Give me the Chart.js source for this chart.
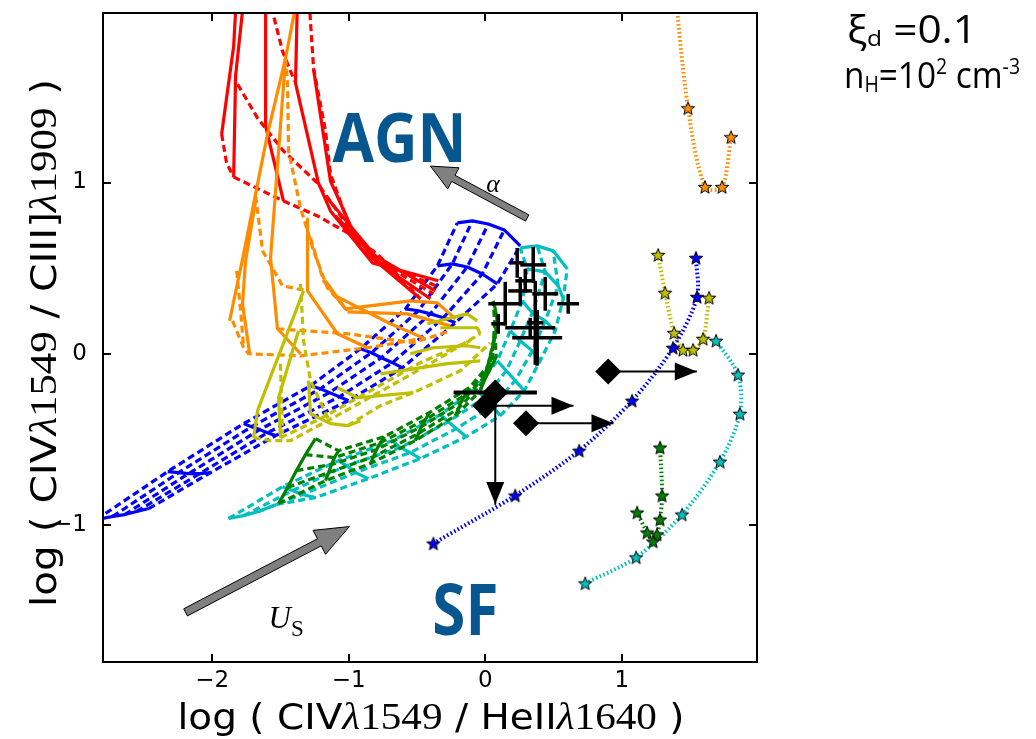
<!DOCTYPE html>
<html>
<head>
<meta charset="utf-8">
<title>CIV/HeII vs CIV/CIII] diagnostic</title>
<script src="https://cdn.jsdelivr.net/npm/chart.js@4.4.1/dist/chart.umd.min.js"></script>
<style>
  html, body { margin: 0; padding: 0; background: #fff; }
  #wrap { width: 1036px; height: 739px; }
</style>
</head>
<body>
<div id="wrap"><canvas id="diag" width="1036" height="739"></canvas></div>
<script>
(function () {
    'use strict';

    // ---- axes ----
    var X_MIN = -2.8, X_MAX = 1.99, Y_MIN = -1.8, Y_MAX = 1.99;
    var xTicks = [-2, -1, 0, 1];
    var yTicks = [-1, 0, 1];

    var RED = '#ff0000', ORANGE = '#ff8c00', YELLOW = '#bfbf00',
        BLUE = '#0000ff', CYAN = '#00bfbf', GREEN = '#008000';

    // ---- AGN model tracks (solid = one parameter fixed, dashed = the other) ----
    var redSolid = [
        [[-1.821, 2.117], [-1.843, 1.796], [-1.931, 1.283]],
        [[-1.763, 2.117], [-1.829, 1.621], [-1.843, 1.032]],
        [[-1.609, 2.117], [-1.609, 1.329], [-1.478, 0.892]],
        [[-1.375, 2.117], [-1.390, 1.580], [-1.222, 0.997], [-1.134, 0.834], [-0.827, 0.531], [-0.344, 0.426]],
        [[-1.258, 1.662], [-1.134, 1.009], [-0.914, 0.618], [-0.475, 0.321]],
        [[-1.170, 0.921], [-0.805, 0.571], [-0.366, 0.367]],
        [[-1.097, 0.805], [-0.753, 0.513], [-0.402, 0.321]]
    ];
    var redDashed = [
        [[-1.931, 1.283], [-1.895, 1.114], [-1.843, 1.032]],
        [[-1.843, 1.032], [-1.478, 0.892], [-1.229, 0.805], [-1.009, 0.706], [-0.790, 0.583], [-0.475, 0.321]],
        [[-1.814, 1.574], [-1.668, 1.376], [-1.478, 1.184], [-1.229, 0.997], [-1.024, 0.764], [-0.805, 0.554], [-0.380, 0.350]],
        [[-1.587, 2.088], [-1.485, 1.767], [-1.397, 1.592]],
        [[-1.295, 2.117], [-1.258, 1.668], [-1.170, 1.300], [-1.134, 1.050], [-0.988, 0.729], [-0.768, 0.531], [-0.344, 0.391]]
    ];

    var orangeSolid = [
        [[-1.368, 2.117], [-1.463, 1.726], [-1.595, 1.283], [-1.770, 0.583], [-1.873, 0.192]],
        [[-1.463, 1.726], [-1.514, 1.184], [-1.573, 0.560], [-1.522, 0.146], [-1.353, 0.000]],
        [[-1.682, 0.892], [-1.756, 0.542], [-1.778, 0.292], [-1.726, 0.000]],
        [[-1.302, 0.787], [-1.302, 0.367], [-1.083, 0.117], [-0.863, 0.035]],
        [[-1.170, 0.426], [-1.024, 0.262], [-0.549, 0.309], [-0.351, 0.297], [-0.219, 0.204]],
        [[-1.009, 0.245], [-0.571, 0.233], [-0.256, 0.163]],
        [[-1.112, 0.344], [-0.695, 0.175], [-0.439, 0.087]]
    ];
    var orangeDashed = [
        [[-1.851, 0.192], [-1.770, 0.035], [-1.734, 0.000], [-1.353, -0.012], [-0.863, 0.035], [-0.475, 0.087]],
        [[-1.463, 1.726], [-1.448, 1.574], [-1.441, 1.184], [-1.353, 0.851], [-1.258, 0.601], [-1.156, 0.385], [-1.009, 0.251]],
        [[-1.682, 0.921], [-1.631, 0.601], [-1.485, 0.397], [-1.302, 0.367]],
        [[-1.821, 0.484], [-1.792, 0.251], [-1.770, 0.035]],
        [[-1.522, 0.146], [-1.009, 0.117], [-0.527, 0.064], [-0.256, 0.134]],
        [[-1.280, 0.676], [-1.185, 0.426], [-1.024, 0.262]]
    ];

    var yellowSolid = [
        [[-1.331, 0.367], [-1.500, 0.017], [-1.668, -0.332], [-1.697, -0.490]],
        [[-1.368, 0.134], [-1.514, -0.257], [-1.500, -0.490]],
        [[-1.295, -0.157], [-1.280, -0.350], [-1.134, -0.408], [-1.009, -0.420], [-0.914, -0.391]],
        [[-1.083, -0.198], [-0.936, -0.257], [-0.527, -0.227]],
        [[-0.768, -0.117], [-0.278, -0.058], [-0.037, -0.041]],
        [[-0.549, 0.000], [-0.380, 0.035], [-0.132, 0.047], [-0.037, 0.035]],
        [[-0.424, 0.175], [-0.132, 0.233], [-0.059, 0.192]],
        [[-0.329, 0.152], [-0.059, 0.152], [-0.037, 0.117]]
    ];
    var yellowDashed = [
        [[-1.697, -0.490], [-1.573, -0.507], [-1.426, -0.507], [-1.112, -0.373], [-0.717, -0.198], [-0.329, -0.023], [-0.037, 0.117]],
        [[-1.500, -0.490], [-1.207, -0.379], [-0.841, -0.216], [-0.475, -0.052], [-0.110, 0.076]],
        [[-1.353, 0.408], [-1.331, 0.076], [-1.280, -0.157], [-1.134, -0.408]],
        [[-1.500, -0.058], [-1.485, -0.467]],
        [[-1.009, -0.420], [-0.768, -0.303], [-0.527, -0.227], [-0.183, -0.099], [0.037, 0.064]]
    ];

    // grids: each row is drawn solid, each column dashed
    var blueGrid = [
        [[-2.848, -0.968], [-2.729, -0.950], [-2.641, -0.939], [-2.553, -0.921], [-2.465, -0.904]],
        [[-2.326, -0.688], [-2.246, -0.694], [-2.173, -0.700], [-2.092, -0.700], [-2.012, -0.694]],
        [[-1.770, -0.408], [-1.712, -0.426], [-1.653, -0.443], [-1.595, -0.461], [-1.536, -0.478]],
        [[-1.280, -0.187], [-1.207, -0.204], [-1.141, -0.227], [-1.068, -0.251], [-1.002, -0.274]],
        [[-0.914, 0.029], [-0.834, 0.006], [-0.761, -0.023], [-0.680, -0.052], [-0.607, -0.082]],
        [[-0.585, 0.262], [-0.490, 0.251], [-0.402, 0.233], [-0.307, 0.210], [-0.219, 0.181]],
        [[-0.351, 0.513], [-0.241, 0.525], [-0.132, 0.507], [-0.022, 0.466], [0.088, 0.408]],
        [[-0.205, 0.764], [-0.095, 0.776], [0.022, 0.758], [0.139, 0.723], [0.256, 0.630]]
    ];
    var cyanGrid = [
        [[-1.880, -0.962], [-1.770, -0.945], [-1.661, -0.921], [-1.529, -0.880]],
        [[-1.485, -0.776], [-1.412, -0.799], [-1.339, -0.822], [-1.244, -0.840]],
        [[-1.075, -0.624], [-1.017, -0.653], [-0.951, -0.694], [-0.856, -0.729]],
        [[-0.680, -0.507], [-0.622, -0.548], [-0.549, -0.577], [-0.475, -0.612]],
        [[-0.329, -0.356], [-0.271, -0.397], [-0.212, -0.437], [-0.139, -0.484]],
        [[-0.073, -0.204], [-0.007, -0.257], [0.051, -0.303], [0.110, -0.362]],
        [[0.088, -0.041], [0.154, -0.099], [0.219, -0.157], [0.285, -0.216]],
        [[0.183, 0.134], [0.256, 0.076], [0.344, 0.017], [0.402, -0.041]],
        [[0.271, 0.309], [0.344, 0.239], [0.439, 0.192], [0.512, 0.134]],
        [[0.307, 0.496], [0.439, 0.478], [0.534, 0.397], [0.571, 0.321]],
        [[0.256, 0.618], [0.380, 0.630], [0.497, 0.601], [0.600, 0.496]]
    ];
    var greenGrid = [
        [[-1.514, -0.875], [-1.448, -0.781], [-1.383, -0.682], [-1.317, -0.589], [-1.244, -0.496]],
        [[-1.170, -0.741], [-1.148, -0.694], [-1.126, -0.647], [-1.104, -0.606], [-1.075, -0.566]],
        [[-0.841, -0.641], [-0.819, -0.601], [-0.797, -0.560], [-0.768, -0.519], [-0.739, -0.484]],
        [[-0.512, -0.507], [-0.490, -0.466], [-0.468, -0.426], [-0.439, -0.385], [-0.410, -0.344]],
        [[-0.219, -0.362], [-0.198, -0.321], [-0.176, -0.280], [-0.146, -0.239], [-0.117, -0.198]],
        [[-0.037, -0.216], [-0.007, -0.157], [0.022, -0.111], [0.051, -0.064], [0.080, -0.017]],
        [[0.059, 0.047], [0.073, 0.117], [0.088, 0.192], [0.073, 0.262], [0.059, 0.309]]
    ];

    // ---- SF model tracks (stars) ----
    var sfOrange = [[1.368, 2.297], [1.485, 1.434], [1.609, 0.974], [1.734, 0.974], [1.800, 1.265]];
    var sfYellow = [[1.266, 0.577], [1.317, 0.356], [1.383, 0.122], [1.448, 0.023], [1.522, 0.023], [1.595, 0.087], [1.639, 0.327]];
    var sfBlue = [[-0.380, -1.108], [0.219, -0.828], [0.688, -0.566], [1.075, -0.274], [1.375, 0.035], [1.551, 0.332], [1.543, 0.560]];
    var sfCyan = [[0.732, -1.341], [1.105, -1.189], [1.441, -0.939], [1.719, -0.630], [1.865, -0.350], [1.851, -0.122], [1.690, 0.076]];
    var sfGreen = [[1.280, -0.548], [1.295, -0.828], [1.280, -0.968], [1.258, -1.055], [1.229, -1.096], [1.185, -1.044], [1.112, -0.927]];

    // ---- observed objects: value and error half-widths ----
    var obsX  = [0.234, 0.351, 0.146, 0.256, 0.607, 0.095, 0.329, 0.380, 0.439, 0.366, 0.293];
    var obsY  = [0.531, 0.519, 0.292, 0.367, 0.292, 0.175, 0.152, 0.093, 0.350, 0.181, 0.426];
    var obsEx = [0.051, 0.095, 0.124, 0.088, 0.080, 0.051, 0.183, 0.183, 0.095, 0.059, 0.073];
    var obsEy = [0.087, 0.105, 0.128, 0.082, 0.058, 0.058, 0.058, 0.163, 0.099, 0.245, 0.070];

    // limits: diamond position and where its arrow ends
    var limX   = [0.900, 0.000, 0.073, 0.298];
    var limY   = [-0.103, -0.303, -0.226, -0.406];
    var limToX = [1.549, 0.646, 0.073, 0.939];
    var limToY = [-0.103, -0.303, -0.877, -0.406];
    var limErrX = [-0.232, 0.378];   // x error of the third diamond

    // ---- helpers ----
    function P(list) { return list.map(function (p) { return { x: p[0], y: p[1] }; }); }
    function columnsOf(grid) {
        var out = [];
        for (var k = 0; k < grid[0].length; k++) {
            out.push(grid.map(function (row) { return row[k]; }));
        }
        return out;
    }

    var DASH = [7, 4], DOT = [1.6, 2.4];
    var sets = [];

    function track(points, color, dash, width) {
        sets.push({
            data: P(points), showLine: true, borderColor: color, backgroundColor: color,
            borderWidth: width || 3.2, borderDash: dash || [], borderJoinStyle: 'round',
            pointRadius: 0
        });
    }

    function starImage(fill) {
        var c = document.createElement('canvas');
        c.width = 18; c.height = 18;
        var g = c.getContext('2d');
        g.beginPath();
        for (var i = 0; i < 10; i++) {
            var a = -Math.PI / 2 + i * Math.PI / 5;
            var r = i % 2 ? 3.0 : 7.0;
            g.lineTo(9 + r * Math.cos(a), 9.6 + r * Math.sin(a));
        }
        g.closePath();
        g.fillStyle = fill;
        g.fill();
        g.lineWidth = 1;
        g.strokeStyle = '#000';
        g.stroke();
        return c;
    }

    function sfTrack(points, color) {
        sets.push({
            data: P(points), showLine: true, borderColor: color, borderWidth: 4,
            borderDash: DOT, tension: 0.3, pointRadius: 0
        });
    }
    function sfStars(points, color) {
        sets.push({
            data: P(points), showLine: false, pointStyle: starImage(color),
            pointRadius: 7, pointBackgroundColor: color
        });
    }

    // ---- layers, bottom first ----
    columnsOf(blueGrid).forEach(function (l) { track(l, BLUE, DASH); });
    blueGrid.forEach(function (l) { track(l, BLUE); });
    columnsOf(cyanGrid).forEach(function (l) { track(l, CYAN, DASH); });
    cyanGrid.forEach(function (l) { track(l, CYAN); });
    columnsOf(greenGrid).forEach(function (l) { track(l, GREEN, DASH); });
    greenGrid.forEach(function (l) { track(l, GREEN); });
    redDashed.forEach(function (l) { track(l, RED, DASH); });
    redSolid.forEach(function (l) { track(l, RED); });
    orangeDashed.forEach(function (l) { track(l, ORANGE, DASH); });
    orangeSolid.forEach(function (l) { track(l, ORANGE); });
    yellowDashed.forEach(function (l) { track(l, YELLOW, DASH); });
    yellowSolid.forEach(function (l) { track(l, YELLOW); });

    [[sfOrange, ORANGE], [sfYellow, YELLOW], [sfBlue, BLUE], [sfCyan, CYAN], [sfGreen, GREEN]]
        .forEach(function (s) { sfTrack(s[0], s[1]); });
    [[sfOrange, ORANGE], [sfYellow, YELLOW], [sfBlue, BLUE], [sfCyan, CYAN], [sfGreen, GREEN]]
        .forEach(function (s) { sfStars(s[0], s[1]); });

    // error-bar crosses
    for (var i = 0; i < obsX.length; i++) {
        track([[obsX[i] - obsEx[i], obsY[i]], [obsX[i] + obsEx[i], obsY[i]]], '#000', null, 3.5);
        track([[obsX[i], obsY[i] - obsEy[i]], [obsX[i], obsY[i] + obsEy[i]]], '#000', null, 3.5);
    }
    // limit arrows (shafts) and the x error bar
    for (var j = 0; j < limX.length; j++) {
        track([[limX[j], limY[j]], [limToX[j], limToY[j]]], '#000', null, 2);
    }
    track([[limErrX[0], limY[2]], [limErrX[1], limY[2]]], '#000', null, 4);
    sets.push({
        data: P(limX.map(function (x, k) { return [x, limY[k]]; })),
        showLine: false, pointStyle: 'rectRot', pointRadius: 13,
        pointBackgroundColor: '#000', pointBorderWidth: 0
    });

    sets.forEach(function (d, k) { d.order = sets.length - k; });

    // ---- text runs (mixed fonts) squeezed to a given width ----
    function drawRuns(ctx, runs, x, y, width, align) {
        var total = 0;
        var widths = runs.map(function (r) {
            ctx.font = r[1];
            var w = ctx.measureText(r[0]).width;
            total += w;
            return w;
        });
        var k = width ? width / total : 1;
        ctx.save();
        ctx.translate(x, y);
        ctx.scale(k, 1);
        var cx = align === 'center' ? -total / 2 : 0;
        runs.forEach(function (r, n) {
            ctx.font = r[1];
            ctx.fillText(r[0], cx, r[2] || 0);
            cx += widths[n];
        });
        ctx.restore();
    }

    var SANS = '"DejaVu Sans"', SERIF = '"Liberation Serif"', LABEL = '"Open Sans"';

    function titleRuns(a, b) {
        return [
            ['log ( CIV', '36px ' + SANS],
            ['\u03bb', 'italic 38px ' + SERIF],
            ['1549', '38px ' + SERIF],
            [' / ' + a, '36px ' + SANS],
            ['\u03bb', 'italic 38px ' + SERIF],
            [b, '38px ' + SERIF],
            [' )', '36px ' + SANS]
        ];
    }

    function fancyArrow(ctx, x0, y0, x1, y1, shaftW, headW, headL) {
        var dx = x1 - x0, dy = y1 - y0, L = Math.sqrt(dx * dx + dy * dy);
        var ux = dx / L, uy = dy / L, nx = -uy, ny = ux;
        var bx = x1 - ux * headL, by = y1 - uy * headL;
        var pts = [
            [x0 + nx * shaftW / 2, y0 + ny * shaftW / 2],
            [bx + nx * shaftW / 2, by + ny * shaftW / 2],
            [bx + nx * headW / 2, by + ny * headW / 2],
            [x1, y1],
            [bx - nx * headW / 2, by - ny * headW / 2],
            [bx - nx * shaftW / 2, by - ny * shaftW / 2],
            [x0 - nx * shaftW / 2, y0 - ny * shaftW / 2]
        ];
        ctx.beginPath();
        pts.forEach(function (p, n) { if (n) ctx.lineTo(p[0], p[1]); else ctx.moveTo(p[0], p[1]); });
        ctx.closePath();
        ctx.fillStyle = '#808080';
        ctx.fill();
        ctx.lineWidth = 1;
        ctx.strokeStyle = '#000';
        ctx.stroke();
    }

    var decor = {
        id: 'decor',
        afterDatasetsDraw: function (chart) {
            var ctx = chart.ctx, sx = chart.scales.x, sy = chart.scales.y;
            ctx.save();
            // arrow heads of the limits
            ctx.fillStyle = '#000';
            for (var n = 0; n < limX.length; n++) {
                var x0 = sx.getPixelForValue(limX[n]), y0 = sy.getPixelForValue(limY[n]);
                var x1 = sx.getPixelForValue(limToX[n]), y1 = sy.getPixelForValue(limToY[n]);
                var L = Math.sqrt((x1 - x0) * (x1 - x0) + (y1 - y0) * (y1 - y0));
                var ux = (x1 - x0) / L, uy = (y1 - y0) / L;
                var bx = x1 - ux * 22, by = y1 - uy * 22;
                ctx.beginPath();
                ctx.moveTo(x1, y1);
                ctx.lineTo(bx - uy * 9, by + ux * 9);
                ctx.lineTo(bx + uy * 9, by - ux * 9);
                ctx.closePath();
                ctx.fill();
            }
            // direction arrows
            fancyArrow(ctx, sx.getPixelForValue(0.307), sy.getPixelForValue(0.793),
                sx.getPixelForValue(-0.402), sy.getPixelForValue(1.096), 7, 24, 26);
            fancyArrow(ctx, sx.getPixelForValue(-2.195), sy.getPixelForValue(-1.510),
                sx.getPixelForValue(-0.995), sy.getPixelForValue(-1.009), 8, 27, 34);

            // region names
            ctx.fillStyle = '#06568f';
            drawRuns(ctx, [['AGN', 'bold 68px ' + LABEL]], sx.getPixelForValue(-1.119), sy.getPixelForValue(1.120), 134);
            drawRuns(ctx, [['SF', 'bold 72px ' + LABEL]], sx.getPixelForValue(-0.388), sy.getPixelForValue(-1.644), 66);
            ctx.fillStyle = '#000';
            drawRuns(ctx, [['\u03b1', 'italic 26px ' + SERIF]], sx.getPixelForValue(0.007), sy.getPixelForValue(0.945));
            drawRuns(ctx, [['U', 'italic 31px ' + SERIF], ['S', '23px ' + SERIF, 8]],
                sx.getPixelForValue(-1.587), sy.getPixelForValue(-1.604));
            ctx.restore();
        },
        afterDraw: function (chart) {
            var ctx = chart.ctx, a = chart.chartArea, sx = chart.scales.x, sy = chart.scales.y;
            ctx.save();
            ctx.strokeStyle = '#000';
            ctx.lineWidth = 2;
            ctx.strokeRect(a.left, a.top, a.right - a.left, a.bottom - a.top);
            ctx.beginPath();
            xTicks.forEach(function (v) {
                var p = Math.round(sx.getPixelForValue(v));
                ctx.moveTo(p, a.bottom); ctx.lineTo(p, a.bottom - 8);
                ctx.moveTo(p, a.top); ctx.lineTo(p, a.top + 8);
            });
            yTicks.forEach(function (v) {
                var p = Math.round(sy.getPixelForValue(v));
                ctx.moveTo(a.left, p); ctx.lineTo(a.left + 8, p);
                ctx.moveTo(a.right, p); ctx.lineTo(a.right - 8, p);
            });
            ctx.stroke();

            // axis titles
            ctx.fillStyle = '#000';
            drawRuns(ctx, titleRuns('HeII', '1640'), 431, 729, 507, 'center');
            ctx.save();
            ctx.translate(56, 343);
            ctx.rotate(-Math.PI / 2);
            drawRuns(ctx, titleRuns('CIII]', '1909'), 0, 0, 528, 'center');
            ctx.restore();

            // model parameters
            drawRuns(ctx, [['\u03be', '38px ' + LABEL], ['d', '22px ' + LABEL, 3], [' =0.1', '38px ' + LABEL]],
                847, 43, 130);
            drawRuns(ctx, [['n', '36px ' + LABEL], ['H', '21px ' + LABEL, 4], ['=10', '36px ' + LABEL],
                ['2', '21px ' + LABEL, -14], [' cm', '36px ' + LABEL], ['-3', '21px ' + LABEL, -14]],
                844, 88, 176);
            ctx.restore();
        }
    };

    function tickText(v) { return v < 0 ? '\u2212' + (-v) : String(v); }

    new Chart(document.getElementById('diag'), {
        type: 'scatter',
        data: { datasets: sets },
        options: {
            responsive: false,
            devicePixelRatio: 1,
            animation: false,
            events: [],
            layout: { padding: { left: 0, right: 279, top: 10, bottom: 0 } },
            plugins: { legend: { display: false }, tooltip: { enabled: false } },
            scales: {
                x: {
                    type: 'linear', min: X_MIN, max: X_MAX,
                    grid: { display: false }, border: { display: false },
                    ticks: { color: '#000', padding: -3, font: { family: 'DejaVu Sans', size: 23 }, callback: tickText },
                    afterBuildTicks: function (s) { s.ticks = xTicks.map(function (v) { return { value: v }; }); },
                    afterFit: function (s) { s.height = 77; s.paddingLeft = 0; s.paddingRight = 0; }
                },
                y: {
                    type: 'linear', min: Y_MIN, max: Y_MAX,
                    grid: { display: false }, border: { display: false },
                    ticks: { color: '#000', padding: 8, font: { family: 'DejaVu Sans', size: 23 }, callback: tickText },
                    afterBuildTicks: function (s) { s.ticks = yTicks.map(function (v) { return { value: v }; }); },
                    afterFit: function (s) { s.width = 103; s.paddingTop = 0; s.paddingBottom = 0; }
                }
            }
        },
        plugins: [decor]
    });
})();
</script>
</body>
</html>
